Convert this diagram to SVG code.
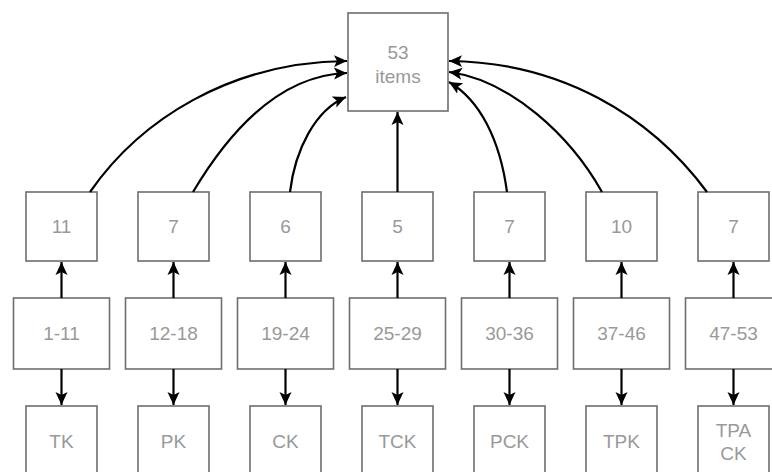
<svg xmlns="http://www.w3.org/2000/svg" width="772" height="472" viewBox="0 0 772 472">
<style>
.box{fill:#fff;stroke:#6e6e6e;stroke-width:1.6}
.t{font-family:"Liberation Sans",Arial,sans-serif;font-size:19px;fill:#999;text-anchor:middle;dominant-baseline:central}
.e{fill:none;stroke:#000;stroke-width:2.2;marker-end:url(#ah)}
</style>
<defs>
<marker id="ah" markerUnits="userSpaceOnUse" markerWidth="14" markerHeight="14" viewBox="0 0 14 14" refX="13" refY="7" orient="auto">
<path d="M0,1 L13,7 L0,13 L3,7 Z" fill="#000"/>
</marker>
</defs>
<rect width="772" height="472" fill="#fff"/>
<g id="top"><rect class="box" x="348" y="13" width="100" height="98"/><text class="t" x="398" y="52">53</text><text class="t" x="398" y="76">items</text></g>
<g id="c1"><rect class="box" x="26" y="192" width="71" height="69"/><text class="t" x="61.5" y="226.5">11</text></g>
<g id="c2"><rect class="box" x="138" y="192" width="71" height="69"/><text class="t" x="173.5" y="226.5">7</text></g>
<g id="c3"><rect class="box" x="250" y="192" width="71" height="69"/><text class="t" x="285.5" y="226.5">6</text></g>
<g id="c4"><rect class="box" x="362" y="192" width="71" height="69"/><text class="t" x="397.5" y="226.5">5</text></g>
<g id="c5"><rect class="box" x="474" y="192" width="71" height="69"/><text class="t" x="509.5" y="226.5">7</text></g>
<g id="c6"><rect class="box" x="586" y="192" width="71" height="69"/><text class="t" x="621.5" y="226.5">10</text></g>
<g id="c7"><rect class="box" x="698" y="192" width="71" height="69"/><text class="t" x="733.5" y="226.5">7</text></g>
<g id="r1"><rect class="box" x="13.5" y="298" width="96" height="71"/><text class="t" x="61.5" y="333.5">1-11</text></g>
<g id="r2"><rect class="box" x="125.5" y="298" width="96" height="71"/><text class="t" x="173.5" y="333.5">12-18</text></g>
<g id="r3"><rect class="box" x="237.5" y="298" width="96" height="71"/><text class="t" x="285.5" y="333.5">19-24</text></g>
<g id="r4"><rect class="box" x="349.5" y="298" width="96" height="71"/><text class="t" x="397.5" y="333.5">25-29</text></g>
<g id="r5"><rect class="box" x="461.5" y="298" width="96" height="71"/><text class="t" x="509.5" y="333.5">30-36</text></g>
<g id="r6"><rect class="box" x="573.5" y="298" width="96" height="71"/><text class="t" x="621.5" y="333.5">37-46</text></g>
<g id="r7"><rect class="box" x="685.5" y="298" width="96" height="71"/><text class="t" x="733.5" y="333.5">47-53</text></g>
<g id="b1"><rect class="box" x="26" y="406" width="71" height="70"/><text class="t" x="61.5" y="441">TK</text></g>
<g id="b2"><rect class="box" x="138" y="406" width="71" height="70"/><text class="t" x="173.5" y="441">PK</text></g>
<g id="b3"><rect class="box" x="250" y="406" width="71" height="70"/><text class="t" x="285.5" y="441">CK</text></g>
<g id="b4"><rect class="box" x="362" y="406" width="71" height="70"/><text class="t" x="397.5" y="441">TCK</text></g>
<g id="b5"><rect class="box" x="474" y="406" width="71" height="70"/><text class="t" x="509.5" y="441">PCK</text></g>
<g id="b6"><rect class="box" x="586" y="406" width="71" height="70"/><text class="t" x="621.5" y="441">TPK</text></g>
<g id="b7"><rect class="box" x="698" y="406" width="71" height="70"/><text class="t" x="733.5" y="430">TPA</text><text class="t" x="733.5" y="453">CK</text></g>
<g id="connectors">
<path class="e" d="M90,192 C140,120 230,62 347,61"/>
<path class="e" d="M193,192 C230,130 280,75 347,73"/>
<path class="e" d="M290,192 C295,150 315,110 346,97"/>
<path class="e" d="M397.5,192 L397.5,112"/>
<path class="e" d="M507,192 C500,140 480,100 449,82"/>
<path class="e" d="M602,192 C570,135 510,80 449,72"/>
<path class="e" d="M707,192 C650,115 560,62 449,61"/>
<path class="e" d="M61.5,298 L61.5,262"/>
<path class="e" d="M173.5,298 L173.5,262"/>
<path class="e" d="M285.5,298 L285.5,262"/>
<path class="e" d="M397.5,298 L397.5,262"/>
<path class="e" d="M509.5,298 L509.5,262"/>
<path class="e" d="M621.5,298 L621.5,262"/>
<path class="e" d="M733.5,298 L733.5,262"/>
<path class="e" d="M61.5,369 L61.5,405"/>
<path class="e" d="M173.5,369 L173.5,405"/>
<path class="e" d="M285.5,369 L285.5,405"/>
<path class="e" d="M397.5,369 L397.5,405"/>
<path class="e" d="M509.5,369 L509.5,405"/>
<path class="e" d="M621.5,369 L621.5,405"/>
<path class="e" d="M733.5,369 L733.5,405"/>
</g>
</svg>
